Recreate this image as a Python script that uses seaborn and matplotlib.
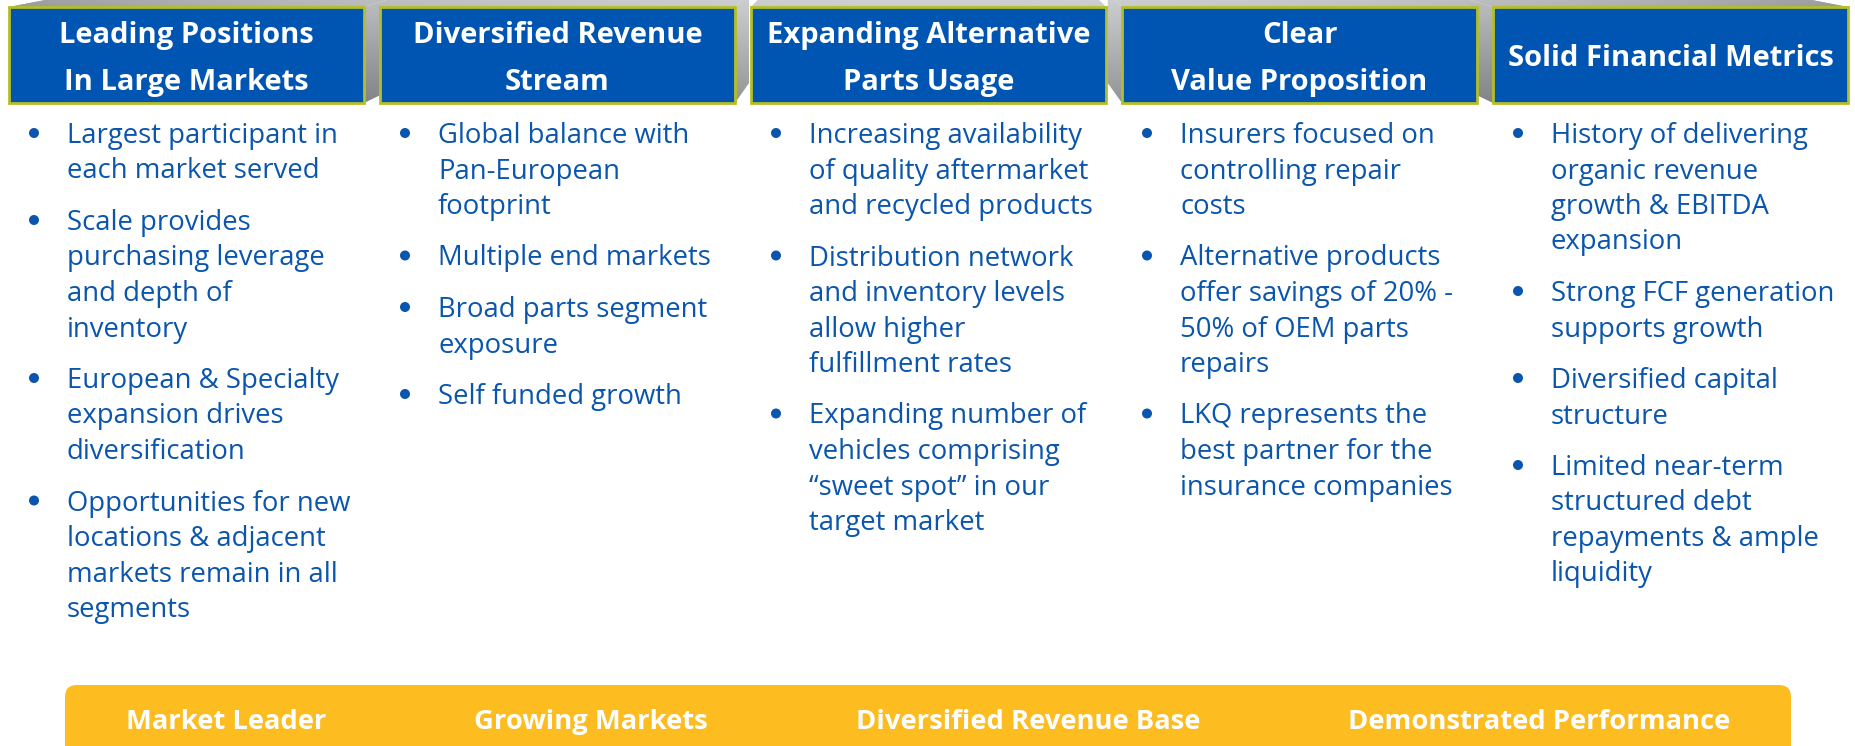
import numpy as np
import pandas as pd
import seaborn as sns
import matplotlib.pyplot as plt
from matplotlib.patches import Polygon, Rectangle, FancyBboxPatch

# ---- content ----
headers = [
    "Leading Positions\nIn Large Markets",
    "Diversified Revenue\nStream",
    "Expanding Alternative\nParts Usage",
    "Clear\nValue Proposition",
    "Solid Financial Metrics",
]

bullets_leading = [
    "Largest participant in\neach market served",
    "Scale provides\npurchasing leverage\nand depth of\ninventory",
    "European & Specialty\nexpansion drives\ndiversification",
    "Opportunities for new\nlocations & adjacent\nmarkets remain in all\nsegments",
]
bullets_revenue = [
    "Global balance with\nPan-European\nfootprint",
    "Multiple end markets",
    "Broad parts segment\nexposure",
    "Self funded growth",
]
bullets_alt_parts = [
    "Increasing availability\nof quality aftermarket\nand recycled products",
    "Distribution network\nand inventory levels\nallow higher\nfulfillment rates",
    "Expanding number of\nvehicles comprising\n\u201csweet spot\u201d in our\ntarget market",
]
bullets_value = [
    "Insurers focused on\ncontrolling repair\ncosts",
    "Alternative products\noffer savings of 20% -\n50% of OEM parts\nrepairs",
    "LKQ represents the\nbest partner for the\ninsurance companies",
]
bullets_financial = [
    "History of delivering\norganic revenue\ngrowth & EBITDA\nexpansion",
    "Strong FCF generation\nsupports growth",
    "Diversified capital\nstructure",
    "Limited near-term\nstructured debt\nrepayments & ample\nliquidity",
]
columns = [bullets_leading, bullets_revenue, bullets_alt_parts,
           bullets_value, bullets_financial]

bar_labels = ["Market Leader", "Growing Markets",
              "Diversified Revenue Base", "Demonstrated Performance"]

# ---- style ----
BLUE = "#0055b2"
TEXT_BLUE = "#0a55ad"
EDGE = "#b4bf25"
GOLD = "#fdbd21"

sns.set_theme(style="white")
plt.rcParams["font.family"] = ["Open Sans", "DejaVu Sans"]

W, H = 1855, 746
fig = plt.figure(figsize=(W / 100, H / 100), dpi=100)
ax = fig.add_axes([0, 0, 1, 1])

# header boxes with a perspective "slab" behind them
box_x0, box_step, box_w = 9, 371, 355
box_top, box_bot = 7, 103
vx, vy, k = 927, -170, 0.927


def back(p):
    return (vx + (p[0] - vx) * k, vy + (p[1] - vy) * k)


# grey shading for the slab: lighter at the top middle, darker low and at the ends
gy = np.linspace(-10, 110, 120)[:, None]
gx = np.linspace(0, W, 400)[None, :]
shade = 0.83 - 0.26 * (gy + 10) / 120 - 0.20 * (np.abs(gx - vx) / vx) ** 2
grad = np.dstack([shade, shade + 0.005, shade + 0.012]).clip(0, 1)

fronts = []
for i in range(len(headers)):
    x0 = box_x0 + i * box_step
    x1 = x0 + box_w
    c = [(x0, box_top), (x1, box_top), (x1, box_bot), (x0, box_bot)]
    b = [back(p) for p in c]
    faces = [[c[0], c[1], b[1], b[0]],
             [c[1], c[2], b[2], b[1]],
             [c[0], c[3], b[3], b[0]]]
    for f in faces:
        poly = Polygon(f, facecolor="none", edgecolor="none")
        ax.add_patch(poly)
        im = ax.imshow(grad, extent=[0, W, 110, -10], aspect="auto",
                       interpolation="bilinear", zorder=1)
        im.set_clip_path(poly)
    fronts.append((x0, x1))

for (x0, x1), head in zip(fronts, headers):
    ax.add_patch(Rectangle((x0, box_top), x1 - x0, box_bot - box_top,
                           facecolor=BLUE, edgecolor=EDGE, lw=2, zorder=2))
    lines = head.split("\n")
    mid = (box_top + box_bot) / 2
    for j, ln in enumerate(lines):
        base = mid - (len(lines) - 1) * 46.5 / 2 + j * 46.5 + 11.5
        ax.text((x0 + x1) / 2, base, ln, ha="center", va="baseline",
                color="white", fontsize=21, fontweight="bold", zorder=3)

# bullet lists
dots = []
line_h, gap, first = 35.5, 16, 133
for (x0, x1), items in zip(fronts, columns):
    y = first
    for item in items:
        dots.append({"x": x0 + 25, "y": y})
        for ln in item.split("\n"):
            ax.text(x0 + 58, y + 10, ln, ha="left", va="baseline",
                    color=TEXT_BLUE, fontsize=19.8)
            y += line_h
        y += gap

dot_df = pd.DataFrame(dots)
sns.scatterplot(data=dot_df, x="x", y="y", ax=ax, s=52, color=TEXT_BLUE,
                edgecolor="none", legend=False, zorder=5)

# bottom gold bar
bar_l, bar_r, bar_t = 65, 1791, 685
ax.add_patch(FancyBboxPatch((bar_l, bar_t), bar_r - bar_l, 90,
                            boxstyle="round,pad=0,rounding_size=12",
                            facecolor=GOLD, edgecolor="none"))

ax.set_xlim(0, W)
ax.set_ylim(H, 0)
ax.axis("off")

renderer = fig.canvas.get_renderer()
txts = [ax.text(0, 729, lab, ha="left", va="baseline", color="white",
                fontsize=19.7, fontweight="bold")
        for lab in bar_labels]
widths = [t.get_window_extent(renderer).width for t in txts]
word_gap = 148
total = sum(widths) + word_gap * (len(txts) - 1)
x = (bar_l + bar_r) / 2 - total / 2
for t, w in zip(txts, widths):
    t.set_x(x)
    x += w + word_gap

fig.savefig("out.png", dpi=100)
